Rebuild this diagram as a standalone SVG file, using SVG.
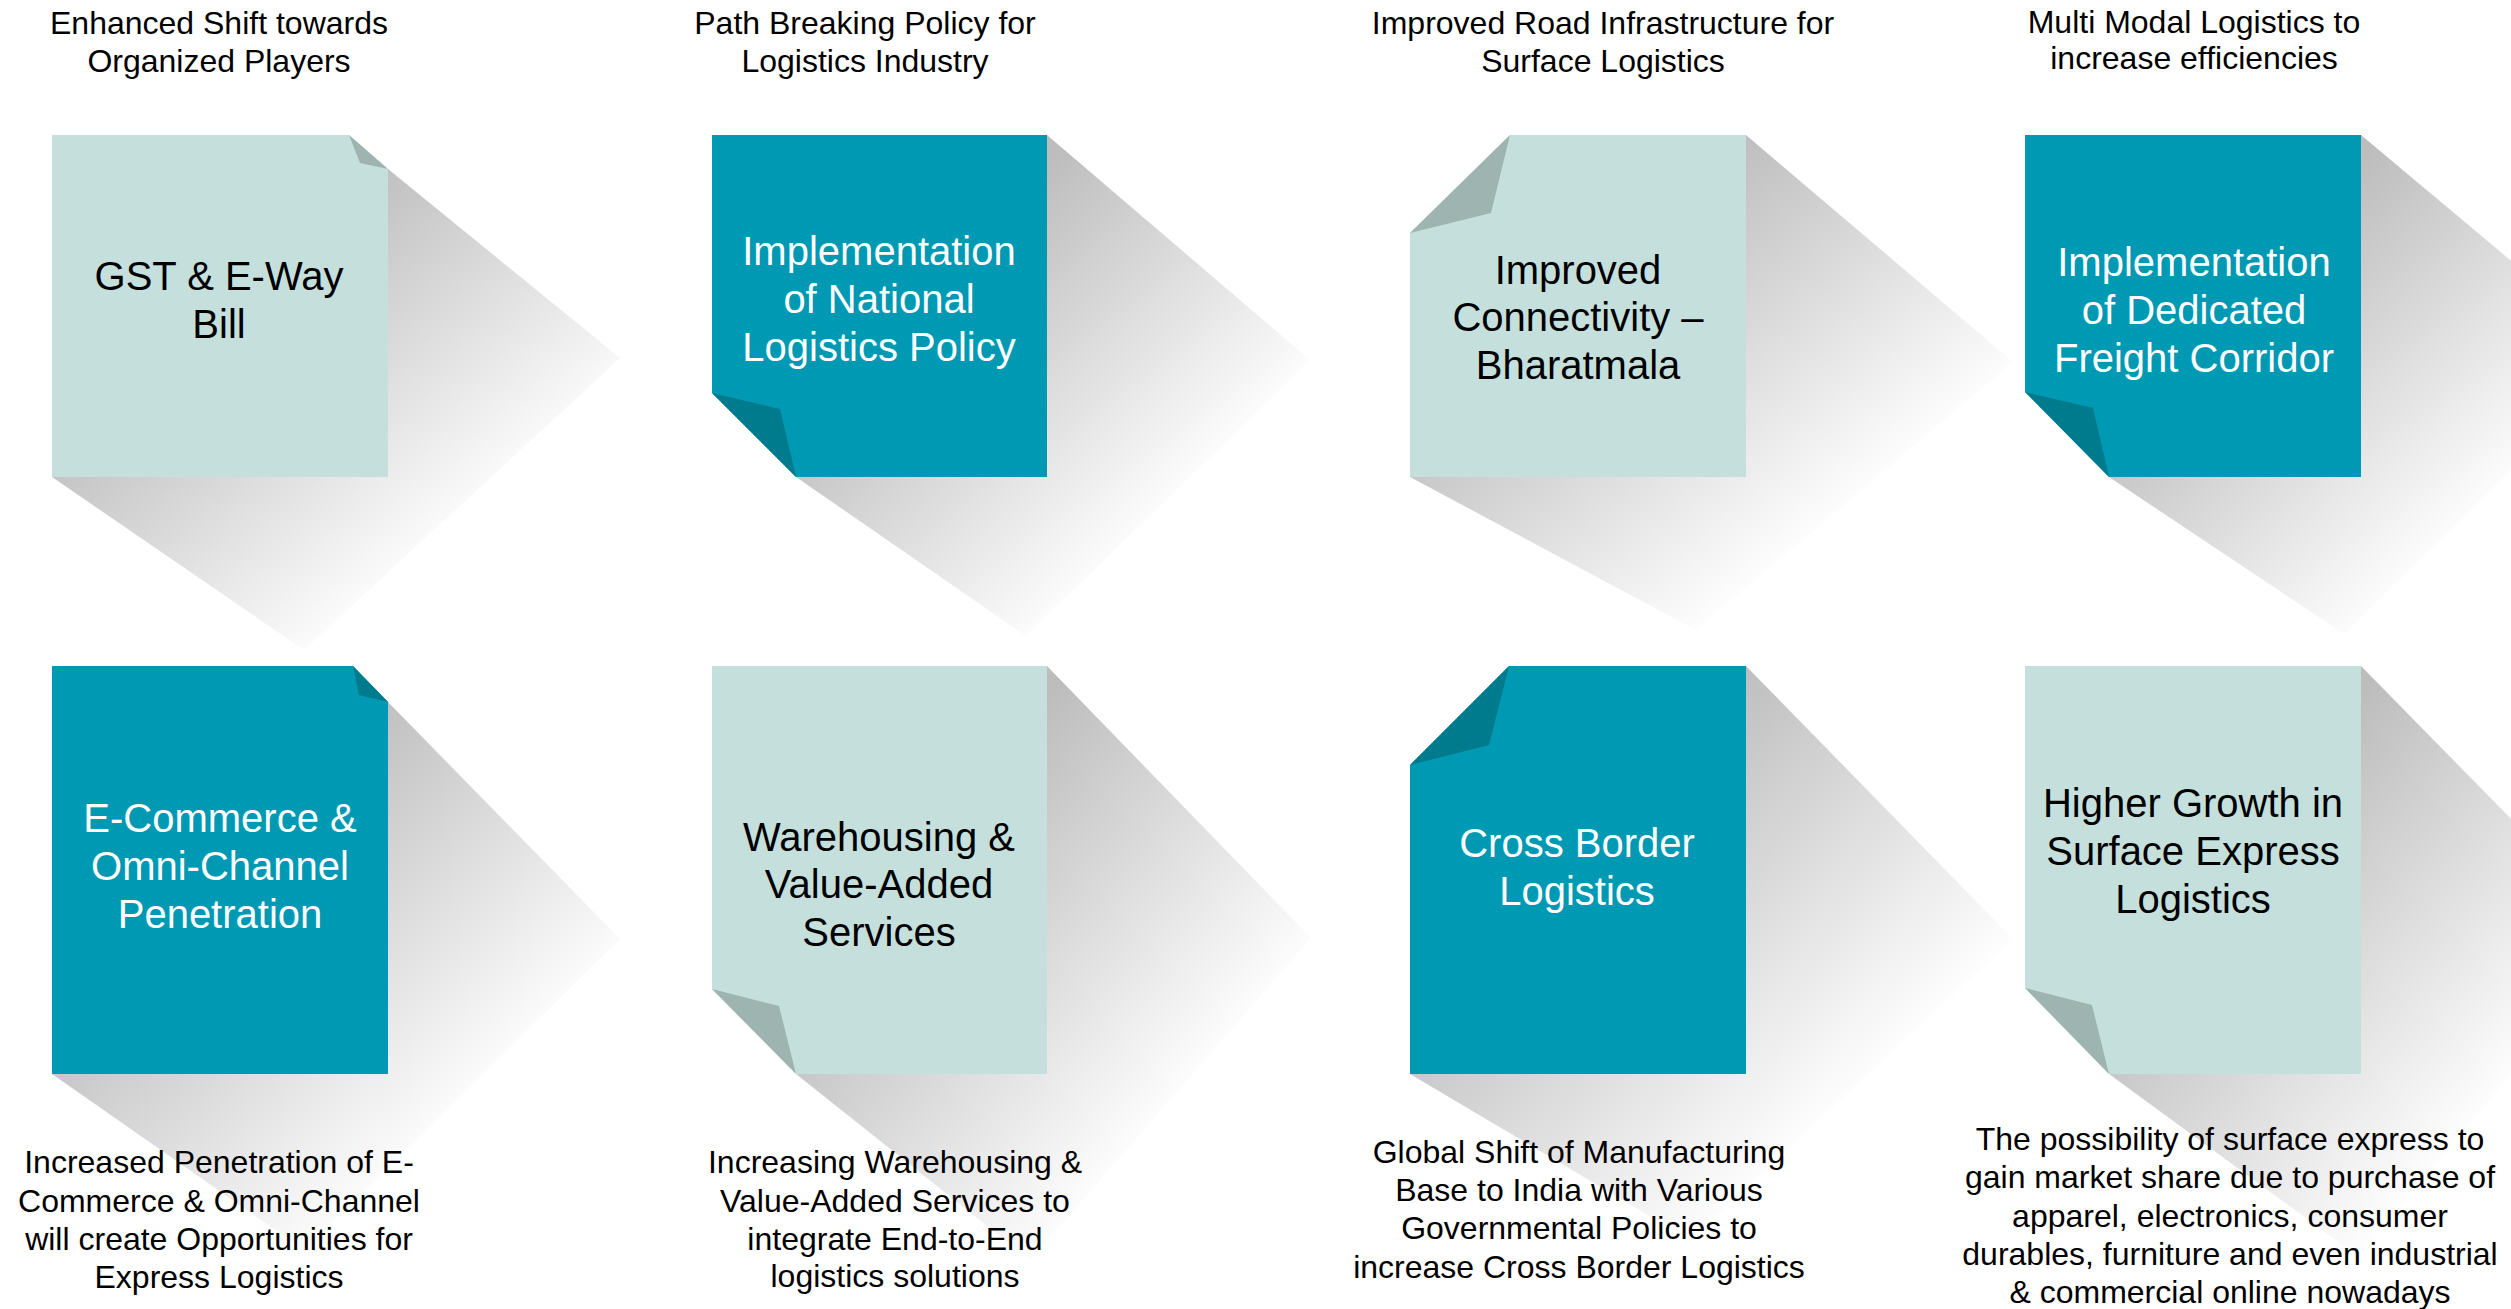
<svg xmlns="http://www.w3.org/2000/svg" width="2511" height="1309" viewBox="0 0 2511 1309">
<defs>
<linearGradient id="shade" x1="0" y1="0" x2="1" y2="1">
<stop offset="0.27" stop-color="#bdbdbd" stop-opacity="1"/>
<stop offset="0.75" stop-color="#bdbdbd" stop-opacity="0"/>
</linearGradient>
<style>
.sh{fill:url(#shade)}
.lt{fill:#c5e0dc}
.tl{fill:#0099b4}
.fl{fill:#9db4b0}
.ft{fill:#007a8d}
text{font-family:"Liberation Sans",Arial,sans-serif;text-anchor:middle}
.cap{font-size:32px;fill:#000}
.in{font-size:40px}
.dk{fill:#000}
.wt{fill:#fff}
</style>
</defs>
<rect width="2511" height="1309" fill="#fff"/>

<g id="node1">
<polygon class="sh" points="388,169 620,358 304,650 52,477"/>
<polygon class="lt" points="52,135 349,135 388,169 388,477 52,477"/>
<polygon class="fl" points="349,135 360,163 388,169"/>
<text class="in dk"><tspan x="219" y="290">GST &amp; E-Way</tspan><tspan x="219" y="338">Bill</tspan></text>
</g>

<g id="node2">
<polygon class="sh" points="1047,135 1310,360 1026,636 796,477"/>
<polygon class="tl" points="712,135 1047,135 1047,477 796,477 712,393"/>
<polygon class="ft" points="712,393 780,409 796,477"/>
<text class="in wt"><tspan x="879" y="265">Implementation</tspan><tspan x="879" y="313">of National</tspan><tspan x="879" y="361">Logistics Policy</tspan></text>
</g>

<g id="node3">
<polygon class="sh" points="1746,135 2013,362 1696,630 1410,477"/>
<polygon class="lt" points="1510,135 1746,135 1746,477 1410,477 1410,233"/>
<polygon class="fl" points="1510,135 1491,213 1410,233"/>
<text class="in dk"><tspan x="1578" y="284">Improved</tspan><tspan x="1578" y="331">Connectivity –</tspan><tspan x="1578" y="379">Bharatmala</tspan></text>
</g>

<g id="node4">
<polygon class="sh" points="2361,135 2626,357 2344,634 2109,477"/>
<polygon class="tl" points="2025,135 2361,135 2361,477 2109,477 2025,392"/>
<polygon class="ft" points="2025,392 2093,408 2109,477"/>
<text class="in wt"><tspan x="2194" y="276">Implementation</tspan><tspan x="2194" y="324">of Dedicated</tspan><tspan x="2194" y="372">Freight Corridor</tspan></text>
</g>

<g id="node5">
<polygon class="sh" points="388,702 620,939 304,1250 52,1074"/>
<polygon class="tl" points="52,666 353,666 388,702 388,1074 52,1074"/>
<polygon class="ft" points="353,666 359,695 388,702"/>
<text class="in wt"><tspan x="220" y="832">E-Commerce &amp;</tspan><tspan x="220" y="880">Omni-Channel</tspan><tspan x="220" y="928">Penetration</tspan></text>
</g>

<g id="node6">
<polygon class="sh" points="1047,666 1311,938 1030,1260 796,1074"/>
<polygon class="lt" points="712,666 1047,666 1047,1074 796,1074 712,989"/>
<polygon class="fl" points="712,989 779,1006 796,1074"/>
<text class="in dk"><tspan x="879" y="851">Warehousing &amp;</tspan><tspan x="879" y="898">Value-Added</tspan><tspan x="879" y="946">Services</tspan></text>
</g>

<g id="node7">
<polygon class="sh" points="1746,666 2013,939 1690,1240 1410,1074"/>
<polygon class="tl" points="1509,666 1746,666 1746,1074 1410,1074 1410,765"/>
<polygon class="ft" points="1509,666 1489,745 1410,765"/>
<text class="in wt"><tspan x="1577" y="857">Cross Border</tspan><tspan x="1577" y="905">Logistics</tspan></text>
</g>

<g id="node8">
<polygon class="sh" points="2361,666 2626,936 2359,1257 2109,1074"/>
<polygon class="lt" points="2025,666 2361,666 2361,1074 2109,1074 2025,988"/>
<polygon class="fl" points="2025,988 2092,1005 2109,1074"/>
<text class="in dk"><tspan x="2193" y="817">Higher Growth in</tspan><tspan x="2193" y="865">Surface Express</tspan><tspan x="2193" y="913">Logistics</tspan></text>
</g>

<g id="captions-top">
<text class="cap"><tspan x="219" y="34">Enhanced Shift towards</tspan><tspan x="219" y="72">Organized Players</tspan></text>
<text class="cap"><tspan x="865" y="34">Path Breaking Policy for</tspan><tspan x="865" y="72">Logistics Industry</tspan></text>
<text class="cap"><tspan x="1603" y="34">Improved Road Infrastructure for</tspan><tspan x="1603" y="72">Surface Logistics</tspan></text>
<text class="cap"><tspan x="2194" y="33">Multi Modal Logistics to</tspan><tspan x="2194" y="69">increase efficiencies</tspan></text>
</g>

<g id="captions-bottom">
<text class="cap"><tspan x="219" y="1173">Increased Penetration of E-</tspan><tspan x="219" y="1212">Commerce &amp; Omni-Channel</tspan><tspan x="219" y="1250">will create Opportunities for</tspan><tspan x="219" y="1288">Express Logistics</tspan></text>
<text class="cap"><tspan x="895" y="1173">Increasing Warehousing &amp;</tspan><tspan x="895" y="1212">Value-Added Services to</tspan><tspan x="895" y="1250">integrate End-to-End</tspan><tspan x="895" y="1287">logistics solutions</tspan></text>
<text class="cap"><tspan x="1579" y="1163">Global Shift of Manufacturing</tspan><tspan x="1579" y="1201">Base to India with Various</tspan><tspan x="1579" y="1239">Governmental Policies to</tspan><tspan x="1579" y="1278">increase Cross Border Logistics</tspan></text>
<text class="cap"><tspan x="2230" y="1150">The possibility of surface express to</tspan><tspan x="2230" y="1188">gain market share due to purchase of</tspan><tspan x="2230" y="1227">apparel, electronics, consumer</tspan><tspan x="2230" y="1265">durables, furniture and even industrial</tspan><tspan x="2230" y="1303">&amp; commercial online nowadays</tspan></text>
</g>
</svg>
